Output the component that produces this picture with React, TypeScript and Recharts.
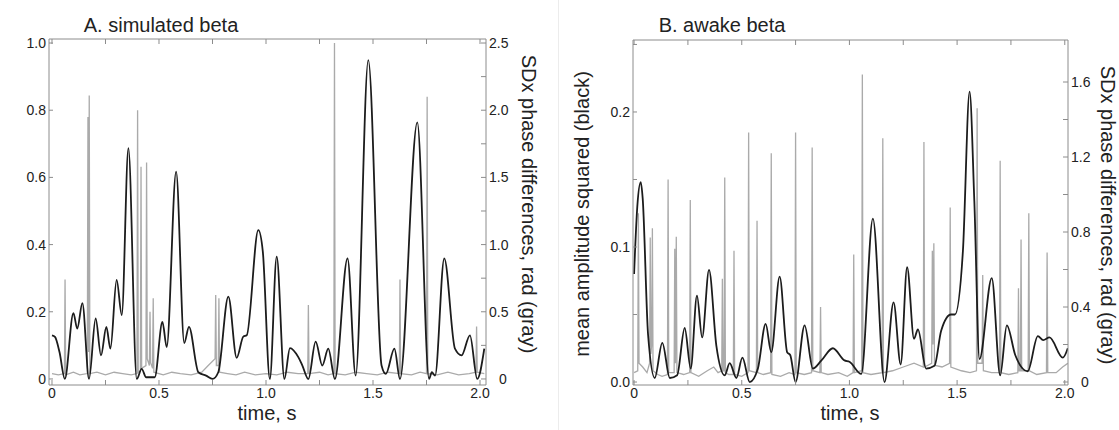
import { LineChart, Line, XAxis, YAxis } from 'recharts';

const FONT = '"Liberation Sans", Arial, Helvetica, sans-serif';
const AXIS = '#8c8c8c';
const INK = '#222';

// A. simulated beta — [time (s), mean amplitude squared]
const blackA: [number, number][] = [
  [0, 0.13], [0.014, 0.125], [0.035, 0.08], [0.06, 0.0], [0.1, 0.196], [0.118, 0.15], [0.142, 0.226],
  [0.173, 0.0], [0.204, 0.18], [0.229, 0.07], [0.254, 0.155], [0.273, 0.09], [0.302, 0.295], [0.326, 0.19],
  [0.357, 0.687], [0.396, 0.0], [0.419, 0.03], [0.44, 0.005], [0.48, 0.005], [0.516, 0.17], [0.536, 0.095],
  [0.58, 0.617], [0.618, 0.107], [0.64, 0.155], [0.684, 0.02], [0.72, 0.01], [0.75, 0.0], [0.777, 0.02],
  [0.824, 0.245], [0.863, 0.063], [0.894, 0.126], [0.91, 0.13], [0.964, 0.443], [0.985, 0.38], [1.018, 0.0],
  [1.05, 0.364], [1.086, 0.0], [1.112, 0.092], [1.151, 0.065], [1.17, 0.04], [1.198, 0.0], [1.232, 0.111],
  [1.263, 0.04], [1.291, 0.09], [1.322, 0.0], [1.381, 0.359], [1.419, 0.01], [1.478, 0.949], [1.54, 0.04],
  [1.56, 0.015], [1.6, 0.09], [1.626, 0.0], [1.707, 0.764], [1.762, 0.0], [1.775, 0.02], [1.79, 0.01],
  [1.833, 0.359], [1.883, 0.09], [1.914, 0.07], [1.953, 0.13], [1.987, 0.0], [2.02, 0.09],
];

// A. SDx phase differences, rad
const grayA: [number, number][] = [
  [0, 0.04], [0.03, 0.03], [0.058, 0.04], [0.061, 0.74], [0.064, 0.03], [0.1, 0.05], [0.13, 0.03],
  [0.165, 0.04], [0.168, 1.95], [0.171, 0.2], [0.174, 2.11], [0.177, 0.04], [0.21, 0.05], [0.25, 0.03],
  [0.29, 0.05], [0.33, 0.04], [0.37, 0.03], [0.397, 0.04], [0.4, 2.0], [0.403, 0.05], [0.413, 0.06],
  [0.416, 1.58], [0.419, 0.08], [0.439, 0.1], [0.442, 1.61], [0.445, 0.15], [0.455, 0.1], [0.458, 0.5],
  [0.461, 0.12], [0.47, 0.08], [0.473, 0.6], [0.476, 0.05], [0.52, 0.03], [0.56, 0.05], [0.6, 0.04],
  [0.65, 0.03], [0.7, 0.05], [0.73, 0.1], [0.762, 0.15], [0.765, 0.625], [0.768, 0.1], [0.777, 0.1],
  [0.78, 0.6], [0.783, 0.05], [0.82, 0.04], [0.86, 0.03], [0.9, 0.05], [0.95, 0.03], [1.0, 0.04],
  [1.05, 0.03], [1.1, 0.05], [1.15, 0.04], [1.195, 0.04], [1.198, 0.55], [1.201, 0.04], [1.25, 0.05],
  [1.29, 0.03], [1.317, 0.04], [1.32, 2.5], [1.323, 0.04], [1.37, 0.03], [1.42, 0.05], [1.47, 0.04],
  [1.52, 0.03], [1.57, 0.05], [1.623, 0.04], [1.626, 0.74], [1.629, 0.04], [1.68, 0.03], [1.72, 0.05],
  [1.75, 0.04], [1.753, 2.1], [1.756, 0.04], [1.8, 0.03], [1.85, 0.05], [1.9, 0.03], [1.95, 0.04],
  [1.981, 0.05], [1.984, 0.39], [1.987, 0.05], [2.02, 0.04],
];

// B. awake beta — [time (s), mean amplitude squared]
const blackB: [number, number][] = [
  [0, 0.08], [0.015, 0.13], [0.031, 0.148], [0.04, 0.136], [0.065, 0.035], [0.096, 0.003], [0.131, 0.029],
  [0.166, 0.003], [0.2, 0.005], [0.235, 0.04], [0.263, 0.01], [0.292, 0.064], [0.316, 0.033], [0.348, 0.083],
  [0.382, 0.027], [0.421, 0.005], [0.444, 0.014], [0.475, 0.003], [0.503, 0.018], [0.537, 0.0], [0.575, 0.01],
  [0.611, 0.043], [0.637, 0.022], [0.676, 0.078], [0.711, 0.022], [0.725, 0.02], [0.75, 0.0], [0.792, 0.042],
  [0.83, 0.01], [0.87, 0.016], [0.923, 0.025], [0.977, 0.016], [1.0, 0.015], [1.055, 0.006], [1.109, 0.121],
  [1.163, 0.0], [1.205, 0.059], [1.238, 0.013], [1.268, 0.085], [1.3, 0.032], [1.318, 0.039], [1.356, 0.01],
  [1.395, 0.012], [1.426, 0.038], [1.472, 0.05], [1.49, 0.05], [1.527, 0.097], [1.558, 0.215], [1.58, 0.134],
  [1.604, 0.017], [1.661, 0.077], [1.7, 0.005], [1.731, 0.042], [1.77, 0.02], [1.828, 0.008], [1.875, 0.034],
  [1.9, 0.031], [1.929, 0.033], [1.991, 0.018], [2.014, 0.025],
];

// B. SDx phase differences, rad
const grayB: [number, number][] = [
  [0, 0.05], [0.017, 0.06], [0.02, 0.9], [0.023, 0.1], [0.04, 0.08], [0.06, 0.05], [0.072, 0.1],
  [0.075, 0.77], [0.078, 0.15], [0.082, 0.2], [0.085, 0.82], [0.088, 0.06], [0.11, 0.04], [0.13, 0.03],
  [0.155, 0.04], [0.158, 1.08], [0.161, 0.05], [0.186, 0.05], [0.189, 0.71], [0.192, 0.1], [0.196, 0.775],
  [0.199, 0.05], [0.23, 0.04], [0.258, 0.05], [0.261, 0.97], [0.264, 0.05], [0.3, 0.03], [0.34, 0.06],
  [0.37, 0.08], [0.39, 0.05], [0.407, 0.06], [0.41, 0.55], [0.413, 0.06], [0.418, 0.06], [0.421, 1.09],
  [0.424, 0.05], [0.44, 0.04], [0.461, 0.04], [0.464, 0.7], [0.467, 0.04], [0.5, 0.03], [0.529, 0.05],
  [0.532, 1.33], [0.535, 0.06], [0.568, 0.05], [0.571, 0.86], [0.574, 0.05], [0.6, 0.04], [0.634, 0.05],
  [0.637, 1.22], [0.64, 0.04], [0.68, 0.03], [0.72, 0.05], [0.747, 0.04], [0.75, 1.33], [0.753, 0.05],
  [0.79, 0.04], [0.824, 0.05], [0.827, 1.25], [0.83, 0.06], [0.863, 0.05], [0.866, 0.4], [0.869, 0.05],
  [0.9, 0.04], [0.95, 0.05], [0.99, 0.03], [1.017, 0.05], [1.02, 0.68], [1.023, 0.05], [1.057, 0.06],
  [1.06, 1.64], [1.063, 0.05], [1.1, 0.04], [1.152, 0.05], [1.155, 1.3], [1.158, 0.05], [1.2, 0.06],
  [1.25, 0.08], [1.3, 0.1], [1.343, 0.08], [1.346, 1.28], [1.349, 0.08], [1.382, 0.1], [1.385, 0.7],
  [1.388, 0.2], [1.392, 0.74], [1.395, 0.09], [1.43, 0.08], [1.465, 0.1], [1.468, 0.93], [1.471, 0.08],
  [1.52, 0.06], [1.56, 0.05], [1.59, 0.06], [1.593, 1.46], [1.596, 0.1], [1.616, 0.1], [1.619, 0.57],
  [1.622, 0.06], [1.66, 0.05], [1.697, 0.05], [1.7, 1.18], [1.703, 0.05], [1.74, 0.04], [1.782, 0.05],
  [1.785, 0.5], [1.788, 0.06], [1.794, 0.06], [1.797, 0.76], [1.8, 0.06], [1.83, 0.06], [1.833, 0.9],
  [1.836, 0.06], [1.87, 0.04], [1.915, 0.05], [1.918, 0.69], [1.921, 0.05], [1.96, 0.05], [1.99, 0.08],
  [2.014, 0.1],
];

const timeTicks = [0, 0.25, 0.5, 0.75, 1.0, 1.25, 1.5, 1.75, 2.0];
const ampTicksA = [0, 0.2, 0.4, 0.6, 0.8, 1.0];
const phaseTicksA = [0, 0.25, 0.5, 0.75, 1.0, 1.25, 1.5, 1.75, 2.0, 2.25, 2.5];
const ampTicksB = [0, 0.05, 0.1, 0.15, 0.2, 0.25];
const phaseTicksB = [0, 0.2, 0.4, 0.6, 0.8, 1.0, 1.2, 1.4, 1.6];

const onStep = (v: number, step: number) => Math.abs(v / step - Math.round(v / step)) < 1e-6;
const fmtTime = (v: number) => (onStep(v, 0.5) ? (v === 0 ? '0' : v.toFixed(1)) : '');
const fmtAmpA = (v: number) => (v === 0 ? '0' : v.toFixed(1));
const fmtPhaseA = (v: number) => (onStep(v, 0.5) ? (v === 0 ? '0' : v.toFixed(1)) : '');
const fmtAmpB = (v: number) => (onStep(v, 0.1) ? v.toFixed(1) : '');
const fmtPhaseB = (v: number) => (onStep(v, 0.4) ? (v === 0 ? '0' : v.toFixed(1)) : '');

const toRows = (pts: [number, number][]) => pts.map(([t, v]) => ({ t, v }));

interface PanelProps {
  left: number;
  width: number;
  margin: { top: number; right: number; bottom: number; left: number };
  black: [number, number][];
  gray: [number, number][];
  xDomain: [number, number];
  ampDomain: [number, number];
  phaseDomain: [number, number];
  ampTicks: number[];
  phaseTicks: number[];
  fmtAmp: (v: number) => string;
  fmtPhase: (v: number) => string;
}

function Panel(p: PanelProps) {
  const tick = { fill: INK, fontSize: 14 };
  // right-hand labels start after the axis; the zero sits a little further out
  const rightTick = (props: any) => {
    const { x, y, payload } = props;
    const v = payload.value as number;
    return (
      <text x={x + (v === 0 ? 10 : 0)} y={y} dy="0.355em" textAnchor="start" fill={INK} fontSize={14}>
        {p.fmtPhase(v)}
      </text>
    );
  };
  return (
    <div style={{ position: 'absolute', left: p.left, top: 0 }}>
      <LineChart width={p.width} height={430} margin={p.margin}>
        <XAxis xAxisId="b" dataKey="t" type="number" domain={p.xDomain} ticks={timeTicks}
          tickFormatter={fmtTime} allowDataOverflow stroke={AXIS} tickSize={-5} tickMargin={8}
          height={30} tick={tick} />
        <XAxis xAxisId="top" orientation="top" dataKey="t" type="number" domain={p.xDomain}
          ticks={timeTicks} tickFormatter={() => ''} allowDataOverflow stroke={AXIS} tickSize={-5}
          height={2} />
        <YAxis yAxisId="l" type="number" domain={p.ampDomain} ticks={p.ampTicks}
          tickFormatter={p.fmtAmp} allowDataOverflow stroke={AXIS} tickSize={-4} tickMargin={7}
          width={40} tick={tick} />
        <YAxis yAxisId="r" orientation="right" type="number" domain={p.phaseDomain} ticks={p.phaseTicks}
          allowDataOverflow stroke={AXIS} tickSize={-5} tickMargin={8}
          width={40} tick={rightTick} />
        <Line xAxisId="b" yAxisId="r" data={toRows(p.gray)} dataKey="v" type="linear" stroke="#aaaaaa"
          strokeWidth={1.3} dot={false} isAnimationActive={false} />
        <Line xAxisId="b" yAxisId="l" data={toRows(p.black)} dataKey="v" type="monotone" stroke="#1c1c1c"
          strokeWidth={1.8} dot={false} isAnimationActive={false} />
      </LineChart>
    </div>
  );
}

const label = (text: string, x: number, y: number, rot = 0) => (
  <div style={{
    position: 'absolute', left: x, top: y, whiteSpace: 'nowrap', fontSize: 20, color: INK,
    transform: `translate(-50%, -50%) rotate(${rot}deg)`,
  }}>{text}</div>
);

export default function App() {
  return (
    <div style={{ position: 'absolute', left: 0, top: 0, width: 1119, height: 430, background: '#fff', fontFamily: FONT, overflow: 'hidden' }}>
      <Panel left={0} width={560} margin={{ top: 37, right: 34, bottom: 15, left: 9 }}
        black={blackA} gray={grayA} xDomain={[-0.014, 2.028]} ampDomain={[-0.018, 1.012]}
        phaseDomain={[-0.045, 2.53]} ampTicks={ampTicksA} phaseTicks={phaseTicksA}
        fmtAmp={fmtAmpA} fmtPhase={fmtPhaseA} />
      <div style={{ position: 'absolute', left: 558, top: 0, width: 1, height: 430, background: '#ececec' }} />
      <Panel left={560} width={559} margin={{ top: 38, right: 11, bottom: 15, left: 33 }}
        black={blackB} gray={grayB} xDomain={[-0.005, 2.015]} ampDomain={[-0.0022, 0.2533]}
        phaseDomain={[-0.016, 1.824]} ampTicks={ampTicksB} phaseTicks={phaseTicksB}
        fmtAmp={fmtAmpB} fmtPhase={fmtPhaseB} />
      {label('A. simulated beta', 161, 25)}
      {label('B. awake beta', 722, 25)}
      {label('time, s', 267, 413)}
      {label('time, s', 850, 413)}
      {label('SDx phase differences, rad (gray)', 528, 204, 90)}
      {label('SDx phase differences, rad (gray)', 1107, 215, 90)}
      {label('mean amplitude squared (black)', 582, 214, -90)}
    </div>
  );
}
